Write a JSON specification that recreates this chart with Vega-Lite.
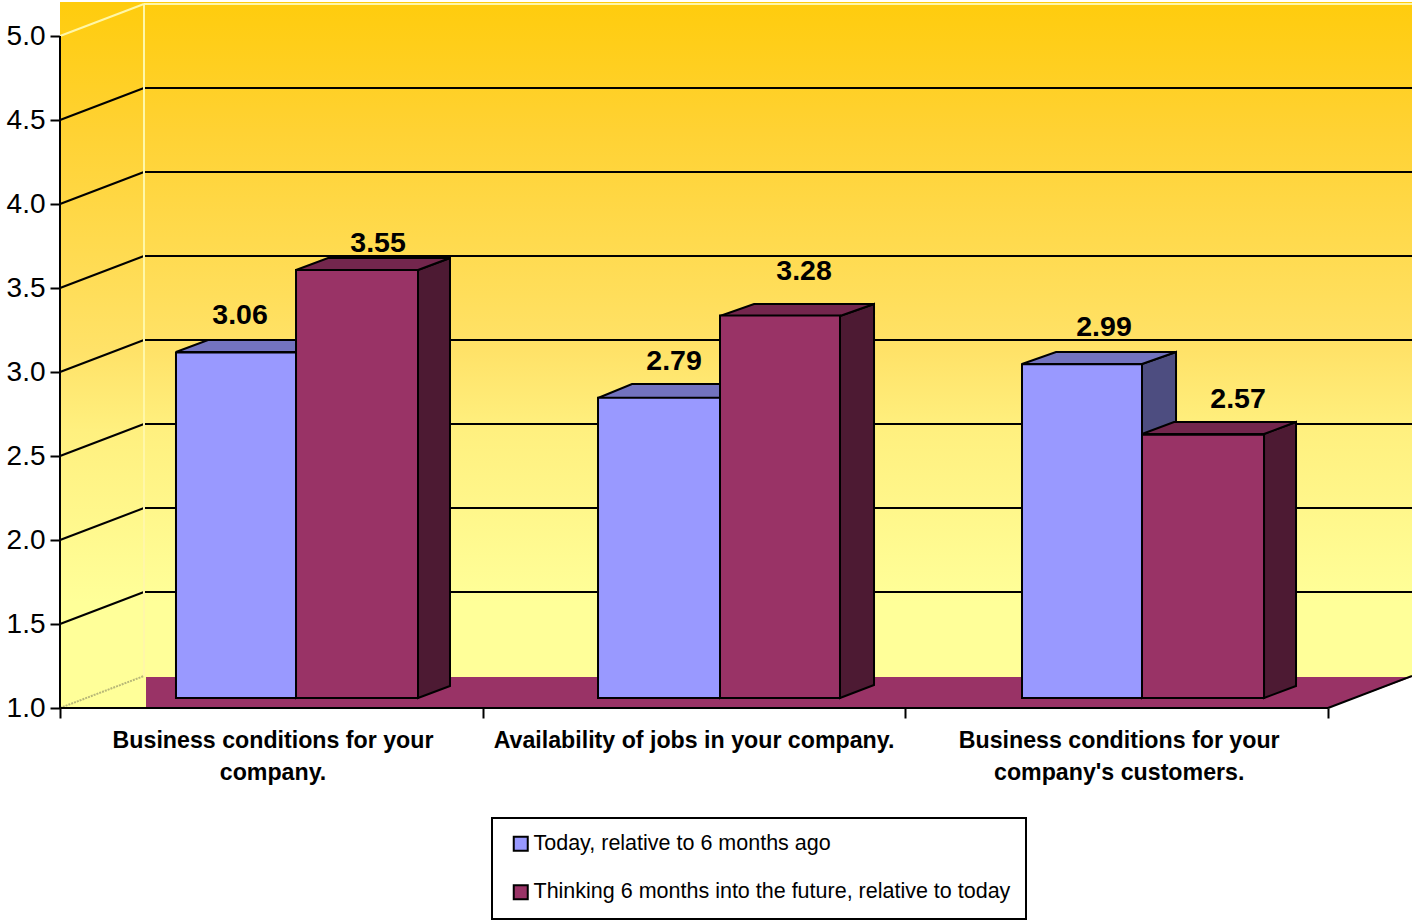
{
"$schema":"https://vega.github.io/schema/vega-lite/v6.json",
"width":1352,"height":708,"autosize":"none",
"padding":{"left":60,"top":0,"right":0,"bottom":212},
"background":"white",
"config":{"view":{"stroke":null},"font":"Liberation Sans","legend":{"strokeWidth":2}},
"datasets":{
"bars":[
{"category":"Business conditions for your company.","series":"Today, relative to 6 months ago","value":3.06,"from":0.2744,"to":0.5584,"labelAt":0.4259,"labelLevel":3.339},
{"category":"Business conditions for your company.","series":"Thinking 6 months into the future, relative to today","value":3.55,"from":0.5584,"to":0.8470,"labelAt":0.7524,"labelLevel":3.768},
{"category":"Availability of jobs in your company.","series":"Today, relative to 6 months ago","value":2.79,"from":1.2729,"to":1.5615,"labelAt":1.4527,"labelLevel":3.065},
{"category":"Availability of jobs in your company.","series":"Thinking 6 months into the future, relative to today","value":3.28,"from":1.5615,"to":1.8454,"labelAt":1.7603,"labelLevel":3.601},
{"category":"Business conditions for your company's customers.","series":"Today, relative to 6 months ago","value":2.99,"from":2.2760,"to":2.5599,"labelAt":2.4700,"labelLevel":3.268},
{"category":"Business conditions for your company's customers.","series":"Thinking 6 months into the future, relative to today","value":2.57,"from":2.5599,"to":2.8486,"labelAt":2.7871,"labelLevel":2.839}
],
"tops":[
{"bar":"a1","series":"blue","u":0.2744,"hi":3.1190,"lo":3.1190},{"bar":"a1","series":"blue","u":0.3502,"hi":3.1905,"lo":3.1190},{"bar":"a1","series":"blue","u":0.5584,"hi":3.1905,"lo":3.1190},{"bar":"a1","series":"blue","u":0.6341,"hi":3.1905,"lo":3.1905},
{"bar":"b1","series":"blue","u":1.2729,"hi":2.8452,"lo":2.8452},{"bar":"b1","series":"blue","u":1.3533,"hi":2.9286,"lo":2.8452},{"bar":"b1","series":"blue","u":1.5615,"hi":2.9286,"lo":2.8452},{"bar":"b1","series":"blue","u":1.6420,"hi":2.9286,"lo":2.9286},
{"bar":"c1","series":"blue","u":2.2760,"hi":3.0476,"lo":3.0476},{"bar":"c1","series":"blue","u":2.3565,"hi":3.1190,"lo":3.0476},{"bar":"c1","series":"blue","u":2.5599,"hi":3.1190,"lo":3.0476},{"bar":"c1","series":"blue","u":2.6404,"hi":3.1190,"lo":3.1190},
{"bar":"a2","series":"maroon","u":0.5584,"hi":3.6071,"lo":3.6071},{"bar":"a2","series":"maroon","u":0.6341,"hi":3.6786,"lo":3.6071},{"bar":"a2","series":"maroon","u":0.8470,"hi":3.6786,"lo":3.6071},{"bar":"a2","series":"maroon","u":0.9227,"hi":3.6786,"lo":3.6786},
{"bar":"b2","series":"maroon","u":1.5615,"hi":3.3333,"lo":3.3333},{"bar":"b2","series":"maroon","u":1.6420,"hi":3.4048,"lo":3.3333},{"bar":"b2","series":"maroon","u":1.8454,"hi":3.4048,"lo":3.3333},{"bar":"b2","series":"maroon","u":1.9259,"hi":3.4048,"lo":3.4048},
{"bar":"c2","series":"maroon","u":2.5599,"hi":2.6310,"lo":2.6310},{"bar":"c2","series":"maroon","u":2.6356,"hi":2.7024,"lo":2.6310},{"bar":"c2","series":"maroon","u":2.8486,"hi":2.7024,"lo":2.6310},{"bar":"c2","series":"maroon","u":2.9243,"hi":2.7024,"lo":2.7024}
],
"sides":[
{"bar":"a1","series":"blue","u":0.5584,"hi":3.1190,"lo":1.0595},{"bar":"a1","series":"blue","u":0.6341,"hi":3.1905,"lo":1.1310},
{"bar":"b1","series":"blue","u":1.5615,"hi":2.8452,"lo":1.0595},{"bar":"b1","series":"blue","u":1.6420,"hi":2.9286,"lo":1.1369},
{"bar":"c1","series":"blue","u":2.5599,"hi":3.0476,"lo":1.0595},{"bar":"c1","series":"blue","u":2.6404,"hi":3.1190,"lo":1.1310},
{"bar":"a2","series":"maroon","u":0.8470,"hi":3.6071,"lo":1.0595},{"bar":"a2","series":"maroon","u":0.9227,"hi":3.6786,"lo":1.1310},
{"bar":"b2","series":"maroon","u":1.8454,"hi":3.3333,"lo":1.0595},{"bar":"b2","series":"maroon","u":1.9259,"hi":3.4048,"lo":1.1369},
{"bar":"c2","series":"maroon","u":2.8486,"hi":2.6310,"lo":1.0595},{"bar":"c2","series":"maroon","u":2.9243,"hi":2.7024,"lo":1.1310}
],
"floor":[{"u":0.2035,"hi":1.1845,"lo":1},{"u":3,"hi":1.1845,"lo":1},{"u":3.1987,"hi":1.1845,"lo":1.1845}],
"grid":[{"level":1.5,"back":1.6905},{"level":2,"back":2.1905},{"level":2.5,"back":2.6905},{"level":3,"back":3.1905},{"level":3.5,"back":3.6905},{"level":4,"back":4.1905},{"level":4.5,"back":4.6905}],
"cats":[
{"label":"Business conditions for your\ncompany.","at":0.504},
{"label":"Availability of jobs in your company.","at":1.5},
{"label":"Business conditions for your\ncompany's customers.","at":2.506}
]
},
"layer":[
{"data":{"values":[{"wall":"back"}]},
 "mark":{"type":"rect","color":{"gradient":"linear","x1":0,"y1":0,"x2":0,"y2":1,"stops":[{"offset":0,"color":"#FFCC0D"},{"offset":0.19,"color":"#FFD233"},{"offset":0.516,"color":"#FFE268"},{"offset":0.635,"color":"#FFF07F"},{"offset":0.89,"color":"#FFFF99"},{"offset":1,"color":"#FFFF99"}]}},
 "encoding":{
  "x":{"datum":0,"type":"quantitative","scale":{"domain":[0,3.1987],"nice":false,"zero":false},"axis":{"values":[0,1,2,3],"labels":false,"domain":false,"grid":false,"title":null,"ticks":true,"tickSize":10,"tickWidth":2,"tickColor":"black"}},
  "x2":{"datum":3.1987},
  "y":{"datum":5.2024,"type":"quantitative","scale":{"domain":[1,5.2143],"nice":false,"zero":false},"axis":{"values":[1,1.5,2,2.5,3,3.5,4,4.5,5],"format":".1f","domain":false,"grid":false,"title":null,"tickSize":10,"tickWidth":2,"tickColor":"black","labelFontSize":28,"labelColor":"black","labelFont":"Liberation Sans","labelPadding":5}},
  "y2":{"datum":1.1845}}},
{"data":{"values":[{"wall":"left"}]},"mark":{"type":"rect","color":"#FFFF99"},
 "encoding":{"x":{"datum":0,"type":"quantitative"},"x2":{"datum":0.2035},"y":{"datum":1.1845,"type":"quantitative"},"y2":{"datum":1}}},
{"data":{"name":"floor"},"mark":{"type":"area","color":"#993366"},
 "encoding":{"x":{"field":"u","type":"quantitative"},"y":{"field":"hi","type":"quantitative"},"y2":{"field":"lo"}}},
{"data":{"name":"grid"},"mark":{"type":"rule","color":"black","strokeWidth":2},
 "encoding":{"x":{"datum":0,"type":"quantitative"},"x2":{"datum":0.1987},"y":{"field":"level","type":"quantitative"},"y2":{"field":"back"}}},
{"data":{"name":"grid"},"mark":{"type":"rule","color":"black","strokeWidth":2},
 "encoding":{"x":{"datum":0.1987,"type":"quantitative"},"x2":{"datum":3.1987},"y":{"field":"back","type":"quantitative"}}},
{"data":{"values":[{"edge":"top"}]},"mark":{"type":"rule","color":"#FFF7A8","strokeWidth":2},
 "encoding":{"x":{"datum":0,"type":"quantitative"},"x2":{"datum":0.1987},"y":{"datum":5,"type":"quantitative"},"y2":{"datum":5.1905}}},
{"data":{"values":[{"edge":"back"}]},"mark":{"type":"rule","color":"#FFF7A8","strokeWidth":2},
 "encoding":{"x":{"datum":0.1987,"type":"quantitative"},"x2":{"datum":3.1987},"y":{"datum":5.1905,"type":"quantitative"}}},
{"data":{"values":[{"edge":"corner"}]},"mark":{"type":"rule","color":"#FFF7A8","strokeWidth":2},
 "encoding":{"x":{"datum":0.1987,"type":"quantitative"},"y":{"datum":5.1905,"type":"quantitative"},"y2":{"datum":1.1905}}},
{"data":{"values":[{"edge":"base"}]},"mark":{"type":"rule","color":"#B8B878","strokeWidth":2,"strokeDash":[2,1]},
 "encoding":{"x":{"datum":0,"type":"quantitative"},"x2":{"datum":0.1987},"y":{"datum":1,"type":"quantitative"},"y2":{"datum":1.1905}}},
{"data":{"values":[{"edge":"yaxis"}]},"mark":{"type":"rule","color":"black","strokeWidth":2},
 "encoding":{"x":{"datum":0,"type":"quantitative"},"y":{"datum":1,"type":"quantitative"},"y2":{"datum":5}}},
{"data":{"values":[{"edge":"xaxis"}]},"mark":{"type":"rule","color":"black","strokeWidth":2},
 "encoding":{"x":{"datum":0,"type":"quantitative"},"x2":{"datum":3},"y":{"datum":1,"type":"quantitative"}}},
{"data":{"values":[{"edge":"front"}]},"mark":{"type":"rule","color":"black","strokeWidth":2},
 "encoding":{"x":{"datum":3,"type":"quantitative"},"x2":{"datum":3.1987},"y":{"datum":1,"type":"quantitative"},"y2":{"datum":1.1905}}},
{"data":{"name":"sides"},"transform":[{"filter":"datum.series==='blue'"}],"mark":{"type":"area","color":"#4D4D80","stroke":"black","strokeWidth":2},
 "encoding":{"x":{"field":"u","type":"quantitative"},"y":{"field":"hi","type":"quantitative"},"y2":{"field":"lo"},"detail":{"field":"bar"}}},
{"data":{"name":"tops"},"transform":[{"filter":"datum.series==='blue'"}],"mark":{"type":"area","color":"#7373BF","stroke":"black","strokeWidth":2},
 "encoding":{"x":{"field":"u","type":"quantitative"},"y":{"field":"hi","type":"quantitative"},"y2":{"field":"lo"},"detail":{"field":"bar"}}},
{"data":{"name":"bars"},"transform":[{"filter":"datum.series==='Today, relative to 6 months ago'"}],
 "mark":{"type":"rect","stroke":"black","strokeWidth":2,"yOffset":-9.5,"y2Offset":-10},
 "encoding":{"x":{"field":"from","type":"quantitative"},"x2":{"field":"to"},"y":{"field":"value","type":"quantitative"},"y2":{"datum":1},
  "color":{"field":"series","type":"nominal","sort":null,"scale":{"domain":["Today, relative to 6 months ago","Thinking 6 months into the future, relative to today"],"range":["#9999FF","#993366"]},
   "legend":{"orient":"none","legendX":432,"legendY":818,"title":null,"fillColor":"white","strokeColor":"black","padding":15,"symbolOffset":3,"symbolType":"square","symbolSize":196,"symbolStrokeColor":"black","symbolStrokeWidth":2,"symbolOpacity":1,"labelFont":"Liberation Sans","labelFontSize":21.5,"labelColor":"black","labelLimit":600,"labelOffset":2,"rowPadding":25.5}}}},
{"data":{"name":"sides"},"transform":[{"filter":"datum.series==='maroon'"}],"mark":{"type":"area","color":"#4D1A33","stroke":"black","strokeWidth":2},
 "encoding":{"x":{"field":"u","type":"quantitative"},"y":{"field":"hi","type":"quantitative"},"y2":{"field":"lo"},"detail":{"field":"bar"}}},
{"data":{"name":"tops"},"transform":[{"filter":"datum.series==='maroon'"}],"mark":{"type":"area","color":"#73264D","stroke":"black","strokeWidth":2},
 "encoding":{"x":{"field":"u","type":"quantitative"},"y":{"field":"hi","type":"quantitative"},"y2":{"field":"lo"},"detail":{"field":"bar"}}},
{"data":{"name":"bars"},"transform":[{"filter":"datum.series!=='Today, relative to 6 months ago'"}],
 "mark":{"type":"rect","stroke":"black","strokeWidth":2,"yOffset":-9.5,"y2Offset":-10},
 "encoding":{"x":{"field":"from","type":"quantitative"},"x2":{"field":"to"},"y":{"field":"value","type":"quantitative"},"y2":{"datum":1},
  "color":{"field":"series","type":"nominal"}}},
{"data":{"name":"bars"},"mark":{"type":"text","font":"Liberation Sans","fontWeight":"bold","fontSize":28.5,"color":"black","baseline":"middle","align":"center"},
 "encoding":{"x":{"field":"labelAt","type":"quantitative"},"y":{"field":"labelLevel","type":"quantitative"},"text":{"field":"value","type":"quantitative","format":".2f"}}},
{"data":{"name":"cats"},"mark":{"type":"text","font":"Liberation Sans","fontWeight":"bold","fontSize":23.2,"color":"black","baseline":"alphabetic","align":"center","lineBreak":"\n","lineHeight":32},
 "encoding":{"x":{"field":"at","type":"quantitative"},"y":{"datum":0.762,"type":"quantitative"},"text":{"field":"label"}}}
]
}
